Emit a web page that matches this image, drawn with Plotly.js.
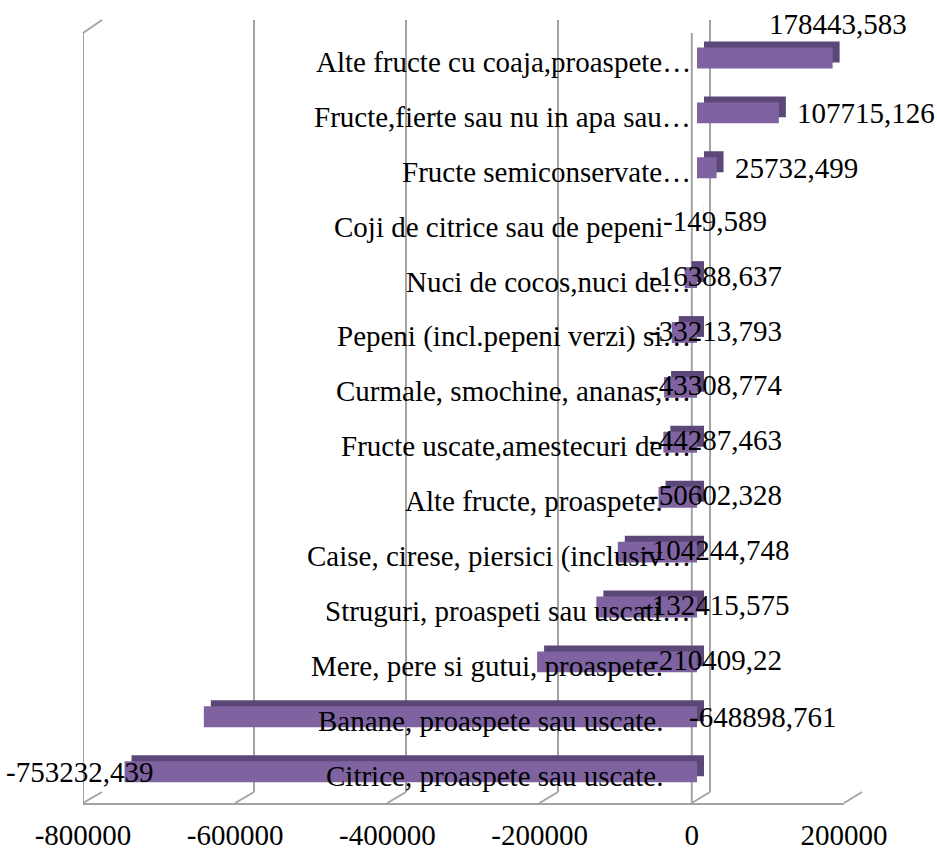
<!DOCTYPE html>
<html>
<head>
<meta charset="utf-8">
<script src="https://cdn.plot.ly/plotly-3.0.1.min.js"></script>
<style>html,body{margin:0;padding:0;background:#fff;}#chart{width:937px;height:850px;}</style>
</head>
<body>
<div id="chart"></div>
<script>
// ---- data ----
const categories = [
  'Alte fructe cu coaja,proaspete…',
  'Fructe,fierte sau nu in apa sau…',
  'Fructe semiconservate…',
  'Coji de citrice sau de pepeni',
  'Nuci de cocos,nuci de…',
  'Pepeni (incl.pepeni verzi) si…',
  'Curmale, smochine, ananas,…',
  'Fructe uscate,amestecuri de…',
  'Alte fructe, proaspete.',
  'Caise, cirese, piersici (inclusiv…',
  'Struguri, proaspeti sau uscati…',
  'Mere, pere si gutui, proaspete.',
  'Banane, proaspete sau uscate.',
  'Citrice, proaspete sau uscate.'
];
const values = [178443.583, 107715.126, 25732.499, -149.589, -16388.637, -33213.793,
  -43308.774, -44287.463, -50602.328, -104244.748, -132415.575, -210409.22,
  -648898.761, -753232.439];
const tickVals = [-800000, -600000, -400000, -200000, 0, 200000];
const tickText = ['-800000', '-600000', '-400000', '-200000', '0', '200000'];

// label placement keywords (style, not data)
const labelPlacement = ['above', 'right', 'right', 'zero', 'zero', 'zero', 'zero', 'zero',
  'zero', 'zero', 'zero', 'zero', 'zeroLeft', 'left'];

// ---- geometry ----
const W = 937, H = 850;
const FONT = 'Liberation Serif, Times New Roman, serif';
const FS = 29;
const GRID = '#A3A3A3';
const xr = [-800000, 200000];
const fx = p => p / W;
const fy = p => 1 - p / H;

const frontTop = 30.55, frontBot = 799.15;
const depthDx = 7, depthDy = 6;

const valueText = v => String(v).replace('.', ',');

const data = [
  { // back wall (dummy to create the subplot)
    type: 'scatter', x: tickVals, y: tickVals.map(() => 0.5), mode: 'markers',
    marker: {opacity: 0}, xaxis: 'x', yaxis: 'y', hoverinfo: 'skip', showlegend: false
  },
  { // bar depth (top / side faces)
    type: 'bar', orientation: 'h', x: values, y: categories, width: 0.38,
    marker: {color: '#5B4778', line: {width: 0}}, xaxis: 'x2', yaxis: 'y2',
    hoverinfo: 'skip', showlegend: false
  },
  { // bar front faces
    type: 'bar', orientation: 'h', x: values, y: categories, width: 0.38,
    marker: {color: '#7F63A1', line: {width: 0}}, xaxis: 'x3', yaxis: 'y3',
    hoverinfo: 'skip', showlegend: false
  },
  { // floor axis (dummy)
    type: 'scatter', x: tickVals, y: tickVals.map(() => 0.5), mode: 'markers',
    marker: {opacity: 0}, xaxis: 'x4', yaxis: 'y4', hoverinfo: 'skip', showlegend: false
  }
];

const catAxis = (dom) => ({
  domain: dom, type: 'category', categoryorder: 'array', categoryarray: categories,
  range: [categories.length - 0.5, -0.5], showticklabels: false, showgrid: false,
  zeroline: false, showline: false, fixedrange: true
});
const valAxis = (dom, anchor) => ({
  domain: dom, range: xr, anchor: anchor, showticklabels: false, showgrid: false,
  zeroline: false, showline: false, fixedrange: true
});

const layout = {
  width: W, height: H, autosize: false,
  margin: {l: 0, r: 0, t: 0, b: 0, pad: 0},
  paper_bgcolor: '#ffffff', plot_bgcolor: 'rgba(0,0,0,0)',
  font: {family: FONT, size: FS, color: '#000'},
  showlegend: false,
  bargap: 0.6,
  xaxis: Object.assign(valAxis([fx(102), fx(862)], 'y'), {
    showgrid: true, gridcolor: GRID, gridwidth: 2, tickmode: 'array', tickvals: tickVals
  }),
  yaxis: {domain: [fy(792), fy(20)], range: [0, 1], anchor: 'x', visible: false, fixedrange: true},
  xaxis2: valAxis([fx(89 + depthDx), fx(849 + depthDx)], 'y2'),
  yaxis2: Object.assign(catAxis([fy(frontBot - depthDy), fy(frontTop - depthDy)]), {anchor: 'x2'}),
  xaxis3: valAxis([fx(89), fx(849)], 'y3'),
  yaxis3: Object.assign(catAxis([fy(frontBot), fy(frontTop)]), {anchor: 'x3'}),
  xaxis4: {
    domain: [fx(83), fx(844)], range: xr, anchor: 'y4', side: 'bottom',
    showline: true, linecolor: GRID, linewidth: 2, showgrid: false, zeroline: false,
    tickmode: 'array', tickvals: tickVals, ticktext: tickText, ticks: '',
    ticklabelstandoff: 5, tickfont: {family: FONT, size: FS, color: '#000'}, fixedrange: true
  },
  yaxis4: {domain: [fy(803), fy(802)], range: [0, 1], anchor: 'x4', visible: false, fixedrange: true},
  shapes: [],
  annotations: []
};

// 3D box lines
const backPx = t => 102 + (t - xr[0]) * 760 / 1e6;
const frontPx = t => 83 + (t - xr[0]) * 761 / 1e6;
[xr[0], 0].forEach(t => {
  layout.shapes.push({type: 'line', xref: 'x4', yref: 'paper', x0: t, x1: t,
    y0: fy(803), y1: fy(33), line: {color: GRID, width: 2}, layer: 'below'});
});
layout.shapes.push({type: 'line', xref: 'paper', yref: 'paper',
  x0: fx(frontPx(xr[0])), y0: fy(33), x1: fx(backPx(xr[0])), y1: fy(20),
  line: {color: GRID, width: 2}, layer: 'below'});
tickVals.forEach(t => {
  layout.shapes.push({type: 'line', xref: 'paper', yref: 'paper',
    x0: fx(backPx(t)), y0: fy(792), x1: fx(frontPx(t)), y1: fy(803),
    line: {color: GRID, width: 2}, layer: 'below'});
});

// category labels
categories.forEach(c => {
  layout.annotations.push({
    xref: 'x3', yref: 'y3', x: 0, y: c, text: c, showarrow: false,
    xanchor: 'right', yanchor: 'middle', xshift: c.endsWith('…') ? -4 : -32, yshift: -4,
    font: {family: FONT, size: FS, color: '#000'}
  });
});

// value labels
values.forEach((v, i) => {
  const a = {xref: 'x3', yref: 'y3', y: categories[i], text: valueText(v), showarrow: false,
    yanchor: 'middle', font: {family: FONT, size: FS, color: '#000'}};
  switch (labelPlacement[i]) {
    case 'above': Object.assign(a, {x: v, xanchor: 'center', xshift: 5, yshift: 34}); break;
    case 'right': Object.assign(a, {x: v, xanchor: 'left', xshift: 16}); break;
    case 'zero': Object.assign(a, {x: 0, xanchor: 'center', xshift: 18, yshift: 2}); break;
    case 'zeroLeft': Object.assign(a, {x: 0, xanchor: 'left', xshift: -10}); break;
    case 'left': Object.assign(a, {x: v, xanchor: 'right', xshift: 30}); break;
  }
  layout.annotations.push(a);
});

Plotly.newPlot('chart', data, layout, {staticPlot: true, displayModeBar: false});
</script>
</body>
</html>
